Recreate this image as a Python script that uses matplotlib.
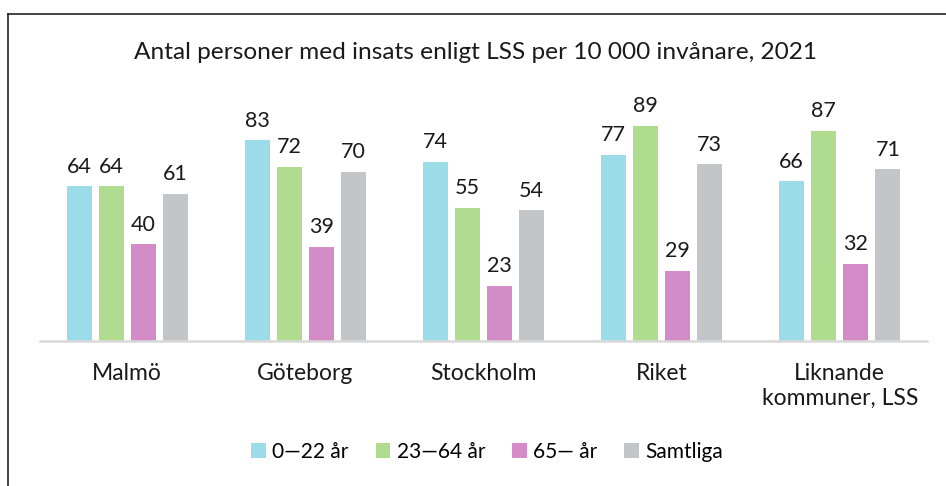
import numpy as np
import matplotlib.pyplot as plt
from matplotlib.lines import Line2D
from matplotlib.patches import Patch

plt.rcParams['font.family'] = ['Lato', 'DejaVu Sans']

categories = ['Malmö', 'Göteborg', 'Stockholm', 'Riket', 'Liknande\nkommuner, LSS']
series_names = ['0—22 år', '23—64 år', '65— år', 'Samtliga']
age_0_22 = [64, 83, 74, 77, 66]
age_23_64 = [64, 72, 55, 89, 87]
age_65 = [40, 39, 23, 29, 32]
total = [61, 70, 54, 73, 71]
colors = ['#9cdce8', '#b0dc90', '#d48cc8', '#c2c6c9']

fig = plt.figure(figsize=(9.46, 4.86), dpi=100)
ax = fig.add_axes([0.0423, 0.298, 0.9377, 0.498])

x = np.arange(len(categories))
step = 0.18
width = 0.14
for i, (vals, col) in enumerate(zip([age_0_22, age_23_64, age_65, total], colors)):
    pos = x + (i - 1.5) * step
    bars = ax.bar(pos, vals, width=width, color=col, zorder=2)
    for b, v in zip(bars, vals):
        ax.annotate(str(v), (b.get_x() + b.get_width() / 2, v),
                    xytext=(0, 7), textcoords='offset points',
                    ha='center', va='bottom', fontsize=15.5, color='#1a1a1a')

ax.set_xlim(-0.49, 4.49)
ax.set_ylim(0, 100)
for s in ['top', 'right', 'left']:
    ax.spines[s].set_visible(False)
ax.spines['bottom'].set_color('#d9d9d9')
ax.spines['bottom'].set_linewidth(1.8)
ax.set_yticks([])
ax.set_xticks(x)
ax.set_xticklabels(categories, fontsize=16.5, color='#1a1a1a', linespacing=1.22)
ax.tick_params(axis='x', length=0, pad=16)

fig.text(0.503, 0.893, 'Antal personer med insats enligt LSS per 10 000 invånare, 2021',
         ha='center', va='center', fontsize=17.6, color='#1a1a1a')

handles = [Patch(facecolor=c, edgecolor='none') for c in colors]
fig.legend(handles, series_names, loc='center', bbox_to_anchor=(0.515, 0.07),
           ncol=4, frameon=False, fontsize=15, handlelength=0.7, handleheight=0.7,
           handletextpad=0.3, columnspacing=1.3)

# frame lines at top and left
fig.add_artist(Line2D([8 / 946, 1.0], [1 - 14 / 486, 1 - 14 / 486], color='#222222', lw=1.2))
fig.add_artist(Line2D([8 / 946, 8 / 946], [0, 1 - 14 / 486], color='#222222', lw=1.2))

fig.savefig('out.png', dpi=100)
